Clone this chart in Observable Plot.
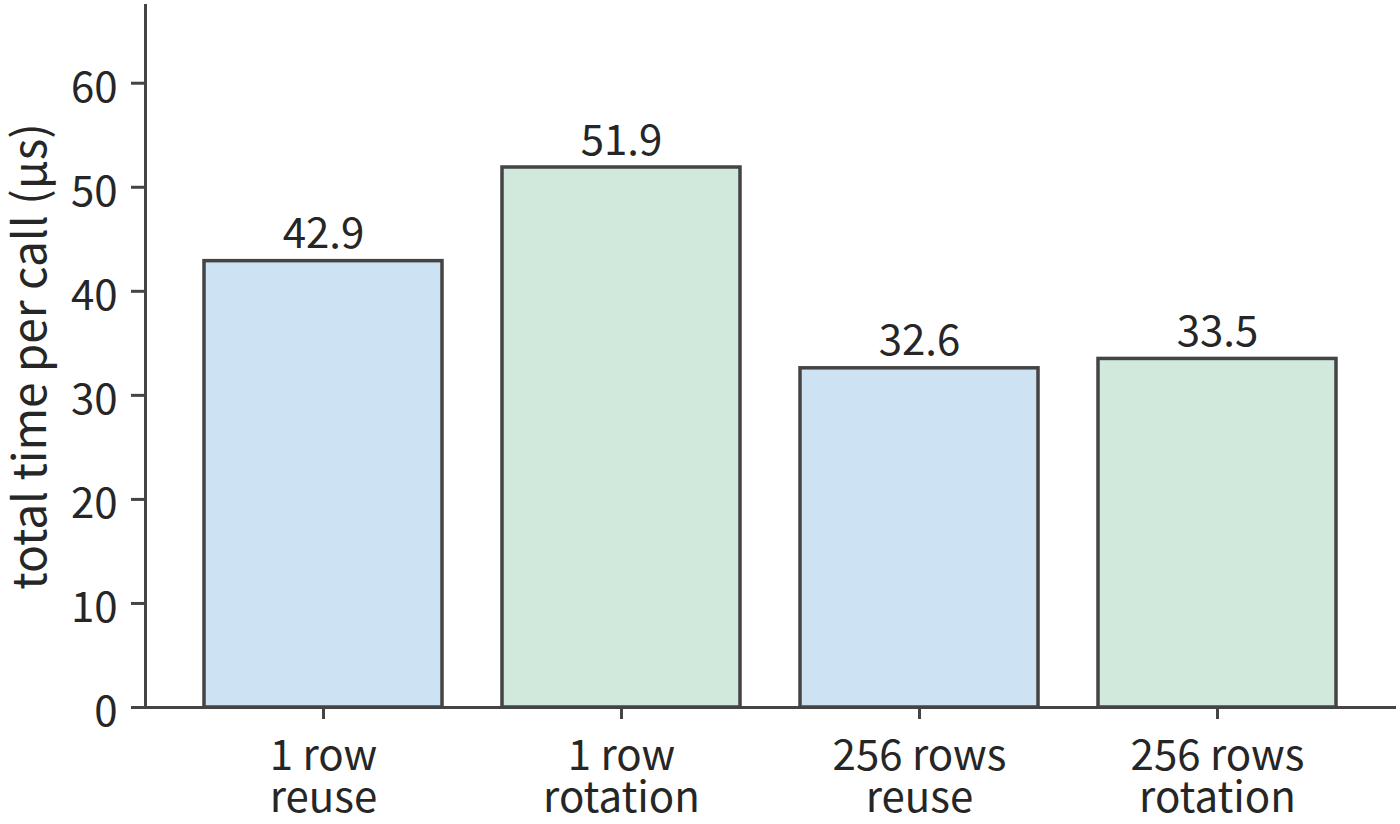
<!DOCTYPE html>
<html>
<head>
<meta charset="utf-8">
<script src="https://cdn.jsdelivr.net/npm/d3@7"></script>
<script src="https://cdn.jsdelivr.net/npm/@observablehq/plot@0.6"></script>
<style>
  html, body { margin: 0; padding: 0; background: #fff; }
  #chart svg { display: block; }
</style>
</head>
<body>
<div id="chart"></div>
<script>
const categories = ["1 row\nreuse", "1 row\nrotation", "256 rows\nreuse", "256 rows\nrotation"];
const values = [42.9, 51.9, 32.6, 33.5];
const kinds = ["reuse", "rotation", "reuse", "rotation"];
const yTicks = [0, 10, 20, 30, 40, 50, 60];
const yLabel = "total time per call (µs)";

const data = categories.map((c, i) => ({cat: c, value: values[i], kind: kinds[i]}));
const font = "'Noto Sans CJK SC', 'Noto Sans', sans-serif";
const ink = "#262626";
const axisColor = "#444444";
const fs = 42;

const chart = Plot.plot({
  width: 1400,
  height: 824,
  marginLeft: 145,
  marginRight: 4,
  marginTop: 5,
  marginBottom: 117,
  style: {fontFamily: font, color: ink, background: "#fff"},
  x: {type: "band", domain: categories, paddingInner: 0.2, paddingOuter: 0.192, axis: null},
  y: {domain: [0, 67.47], axis: null},
  color: {domain: ["reuse", "rotation"], range: ["#cde2f2", "#d1e8dc"]},
  marks: [
    Plot.barY(data, {x: "cat", y: "value", fill: "kind", stroke: axisColor, strokeWidth: 3.5}),
    Plot.text(data, {x: "cat", y: "value", text: d => d.value.toFixed(1), lineAnchor: "bottom", dy: -13, fontSize: fs, fill: ink}),
    Plot.axisY({ticks: yTicks, tickSize: 14, tickFormat: () => "", stroke: axisColor, strokeWidth: 3, label: null}),
    Plot.axisY({ticks: yTicks, tickSize: 0, tickPadding: 28, fontSize: fs, fill: ink, dy: 5, label: null}),
    Plot.axisX({tickSize: 12, tickPadding: 21, fontSize: fs, lineHeight: 1.0, stroke: axisColor, strokeWidth: 3, fill: ink, label: null}),
    Plot.frame({anchor: "left", stroke: axisColor, strokeWidth: 3}),
    Plot.ruleY([0], {stroke: axisColor, strokeWidth: 3}),
    Plot.text([yLabel], {frameAnchor: "left", textAnchor: "middle", dx: -114, rotate: -90, fontSize: 46, lineAnchor: "middle", fill: ink})
  ]
});
document.getElementById("chart").appendChild(chart);
</script>
</body>
</html>
